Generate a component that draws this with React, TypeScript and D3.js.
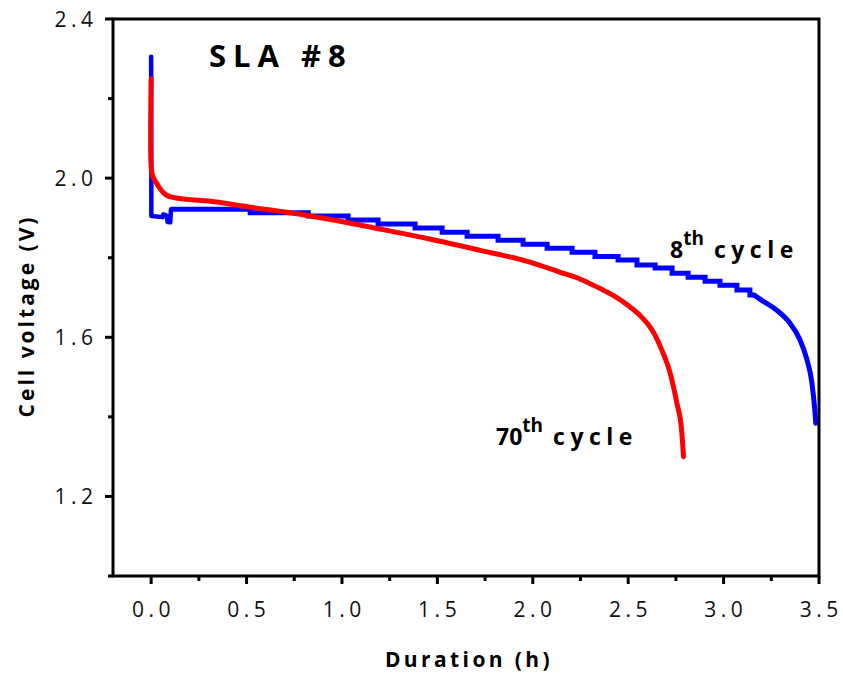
import React from "react";
import * as d3 from "d3";

const xTicks = [0.0, 0.5, 1.0, 1.5, 2.0, 2.5, 3.0, 3.5];
const xMinor = [0.25, 0.75, 1.25, 1.75, 2.25, 2.75, 3.25];
const yTicks = [1.2, 1.6, 2.0, 2.4];
const yMinor = [1.0, 1.4, 1.8, 2.2];

// 8th cycle: start transient (linear), stair part (step), tail (smooth)
const blueStart: [number, number][] = [
  [0, 2.305], [0.001, 1.905], [0.06, 1.902], [0.064, 1.909], [0.082, 1.906],
  [0.086, 1.89], [0.1, 1.889], [0.104, 1.922],
];
const blueSteps: [number, number][] = [
  [0.104, 1.922], [0.519, 1.913], [0.823, 1.905], [1.032, 1.895], [1.189, 1.885],
  [1.383, 1.875], [1.525, 1.864], [1.656, 1.854], [1.818, 1.844], [1.949, 1.834],
  [2.075, 1.824], [2.206, 1.814], [2.326, 1.803], [2.447, 1.794], [2.546, 1.782],
  [2.641, 1.774], [2.73, 1.761], [2.814, 1.751], [2.903, 1.741], [2.981, 1.731],
  [3.07, 1.719], [3.138, 1.706], [3.16, 1.706],
];
const blueTail: [number, number][] = [
  [3.16, 1.706], [3.206, 1.691], [3.279, 1.668], [3.347, 1.636], [3.399, 1.595],
  [3.436, 1.545], [3.463, 1.485], [3.478, 1.417], [3.483, 1.384],
];
// 70th cycle
const redStart: [number, number][] = [
  [0, 2.25], [0.0, 2.03], [0.008, 2.005], [0.025, 1.99], [0.045, 1.975],
  [0.065, 1.963], [0.09, 1.955],
];
const redMain: [number, number][] = [
  [0.09, 1.955], [0.13, 1.95], [0.29, 1.943], [0.52, 1.927],
  [0.82, 1.906], [1.2, 1.872], [1.46, 1.847], [1.72, 1.819], [1.985, 1.789],
  [2.14, 1.764], [2.25, 1.746], [2.35, 1.723], [2.43, 1.703], [2.5, 1.68],
  [2.56, 1.656], [2.605, 1.632], [2.64, 1.606], [2.67, 1.575], [2.72, 1.51],
  [2.755, 1.435], [2.78, 1.367], [2.79, 1.3],
];

const W = 843, H = 675;
const L = 113, R = 819, T = 19, B = 576;
const FONT = "'Open Sans', 'Noto Sans', sans-serif";
const TS = 4.5;

export default function App() {
  const x = d3.scaleLinear().domain([-0.2, 3.5]).range([L, R]);
  const y = d3.scaleLinear().domain([1.0, 2.4]).range([B, T]);
  const lin = d3.line<[number, number]>().x(d => x(d[0])).y(d => y(d[1]));
  const step = d3.line<[number, number]>().x(d => x(d[0])).y(d => y(d[1])).curve(d3.curveStepAfter);
  const cat = d3.line<[number, number]>().x(d => x(d[0])).y(d => y(d[1])).curve(d3.curveCatmullRom.alpha(0.5));
  const mono = d3.line<[number, number]>().x(d => x(d[0])).y(d => y(d[1])).curve(d3.curveMonotoneX);
  const fmt = d3.format(".1f");

  return (
    <svg width={W} height={H} style={{ position: "absolute", left: 0, top: 0, background: "#fff" }} fontFamily={FONT}>
      <g fill="none" strokeLinejoin="round" strokeLinecap="round">
        <path d={lin(blueStart) || ""} stroke="#0000ff" strokeWidth={4.5} />
        <path d={step(blueSteps) || ""} stroke="#0000ff" strokeWidth={5} strokeLinecap="butt" strokeLinejoin="miter" />
        <path d={mono(blueTail) || ""} stroke="#0000ff" strokeWidth={5} />
        <path d={cat(redStart) || ""} stroke="#ff0000" strokeWidth={5} />
        <path d={mono(redMain) || ""} stroke="#ff0000" strokeWidth={5} />
      </g>
      <rect x={L} y={T} width={R - L} height={B - T} fill="none" stroke="#000" strokeWidth={3} />
      {xTicks.map(t => (
        <g key={"x" + t}>
          <line x1={x(t)} x2={x(t)} y1={B} y2={B + 8} stroke="#000" strokeWidth={3} />
          <text x={x(t) + TS / 2} y={617} textAnchor="middle" fontSize={21} letterSpacing={TS} fill="#111">{fmt(t)}</text>
        </g>
      ))}
      {xMinor.map(t => (
        <line key={"xm" + t} x1={x(t)} x2={x(t)} y1={B} y2={B + 5} stroke="#000" strokeWidth={3} />
      ))}
      {yTicks.map(t => (
        <g key={"y" + t}>
          <line x1={L - 8} x2={L} y1={y(t)} y2={y(t)} stroke="#000" strokeWidth={3} />
          <text x={93 + TS} y={y(t) + 8} textAnchor="end" fontSize={21} letterSpacing={TS} fill="#111">{fmt(t)}</text>
        </g>
      ))}
      {yMinor.map(t => (
        <line key={"ym" + t} x1={L - 5} x2={L} y1={y(t)} y2={y(t)} stroke="#000" strokeWidth={3} />
      ))}
      <text x={469} y={667} textAnchor="middle" fontSize={21} fontWeight="bold" letterSpacing={3.4}>Duration (h)</text>
      <text transform="translate(34,316) rotate(-90)" textAnchor="middle" fontSize={21} fontWeight="bold" letterSpacing={3}>Cell voltage (V)</text>
      <text x={209} y={67} fontSize={31} fontWeight="bold" letterSpacing={7}>SLA #8</text>
      <text x={670} y={258} fontSize={23} fontWeight="bold">
        8<tspan dy={-13} fontSize={19}>th</tspan><tspan dy={13} dx={10} letterSpacing={5.5}>cycle</tspan>
      </text>
      <text x={496} y={445} fontSize={23} fontWeight="bold">
        70<tspan dy={-13} fontSize={19}>th</tspan><tspan dy={13} dx={10} letterSpacing={5.5}>cycle</tspan>
      </text>
    </svg>
  );
}
